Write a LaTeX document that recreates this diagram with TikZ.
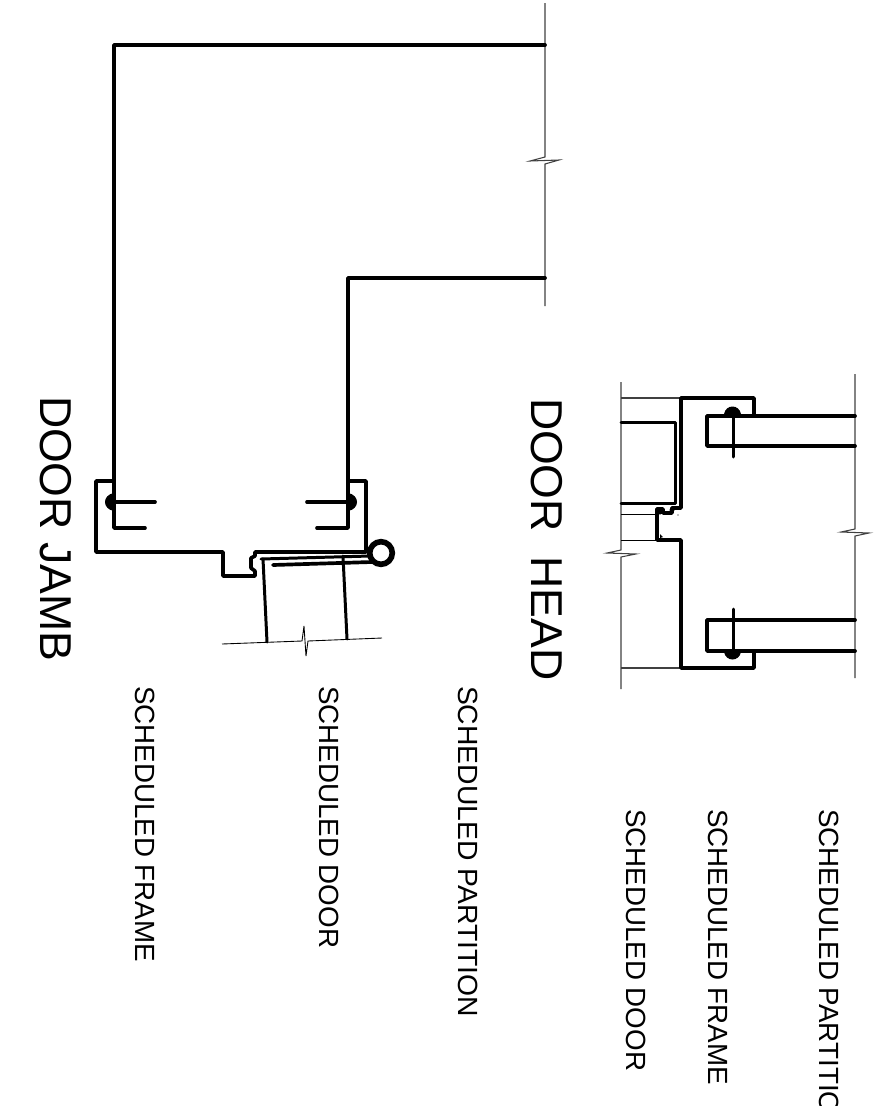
\documentclass[tikz,border=0pt]{standalone}
\usepackage{fontspec}
\setmainfont{Liberation Sans}
\usetikzlibrary{calc}
\tikzset{
    wall line/.style={line width=2.1pt,line cap=round,line join=round},
    door line/.style={line width=1.7pt,line cap=round,line join=round},
    thin line/.style={line width=.6pt,black!75},
    hair line/.style={line width=.5pt},
    title label/.style={rotate=-90,anchor=base west,inner sep=0pt,outer sep=0pt,font=\fontsize{25.4}{25}\selectfont},
    note label/.style={rotate=-90,anchor=base west,inner sep=0pt,outer sep=0pt,font=\fontsize{15.8}{16}\selectfont},
}
\begin{document}
\begin{tikzpicture}[x=0.02cm,y=-0.02cm]
    \useasboundingbox (0,0) rectangle (875,1106);
    \coordinate (J1) at (114,45);
    \coordinate (J2) at (348,278);
    \coordinate (JE1) at (545,45);
    \coordinate (JE2) at (545,278);
    \coordinate (H) at (381,553);

    % jamb
    \draw[thin line] (545,3) -- (545,157) -- (530,161) -- (559,160) -- (545,164) -- (545,306);
    \draw[wall line] (JE1) -- (J1) -- (114,528) -- (145,528);
    \draw[wall line] (JE2) -- (J2) -- (348,528) -- (317,528);
    \draw[wall line] (107,502) -- (155,502);
    \draw[wall line] (307,502) -- (355,502);
    \fill (114,493) .. controls (102,495) and (102,509) .. (114,511) -- cycle;
    \fill (348,493) .. controls (360,495) and (360,509) .. (348,511) -- cycle;
    \draw[wall line] (114,481) -- (96,481) -- (96,552) -- (223,552) -- (223,576) -- (255,576)
        -- (255,571) -- (251,568) -- (251,558) -- (255,556) -- (255,552) -- (366,552) -- (366,481) -- (348,481);
    \draw[line width=3.2pt] (H) circle (11.3);
    \draw[door line] (261,559) -- (370,556);
    \draw[wall line] (273,565) -- (372,562);
    \draw[door line] (263,559) -- (267,642);
    \draw[door line] (343,556) -- (347,639);
    \draw[hair line] (222,644) -- (302,641) -- (304,626) -- (306,656) -- (308,641) -- (382,638);

    % head
    \draw[thin line] (621,382) -- (621,550) -- (607,553) -- (636,554) -- (621,557) -- (621,689);
    \draw[thin line] (855,374) -- (855,529) -- (841,532) -- (869,533) -- (855,536) -- (855,678);
    \draw[thin line] (621,398) -- (681,398);
    \draw[thin line] (621,668) -- (681,668);
    \draw[hair line] (621,514) -- (657,514);
    \draw[hair line] (621,540) -- (658,540);
    \draw[door line] (621,422) -- (675,422) -- (675,503) -- (621,503);
    \draw[wall line] (754,416) -- (754,398) -- (681,398) -- (681,508) -- (672,508) -- (672,513) -- (663,513)
        -- (663,509) -- (657,509) -- (657,540) -- (681,540) -- (681,668) -- (754,668) -- (754,651);
    \draw[wall line] (855,416) -- (707,416) -- (707,446) -- (855,446);
    \draw[wall line] (855,620) -- (707,620) -- (707,651) -- (855,651);
    \draw[door line] (733,410) -- (733,457);
    \draw[door line] (733,609) -- (733,657);
    \fill (724,414) .. controls (726,404) and (739,404) .. (741,414) -- cycle;
    \fill (724,652) .. controls (726,662) and (739,662) .. (741,652) -- cycle;
    \fill (660,511) circle (3.5);
    \fill (672,510) circle (2.5);
    \fill (660,534) -- (663,537) -- (660,538) -- cycle;
    \fill (678,515) circle (.7);

    % labels
    \node[title label] (jamb title) at (40,396) {DOOR JAMB};
    \node[title label] (head title) at (531,398) {DOOR\ \ HEAD};
    \node[note label] (jamb frame) at (135,686) {SCHEDULED FRAME};
    \node[note label] (jamb door) at (319,686) {SCHEDULED DOOR};
    \node[note label,xscale=1.02] (jamb partition) at (458,686) {SCHEDULED PARTITION};
    \node[note label] (head door) at (626,809) {SCHEDULED DOOR};
    \node[note label] (head frame) at (708,809) {SCHEDULED FRAME};
    \node[note label] (head partition) at (819,809) {SCHEDULED PARTITION};
\end{tikzpicture}
\end{document}
